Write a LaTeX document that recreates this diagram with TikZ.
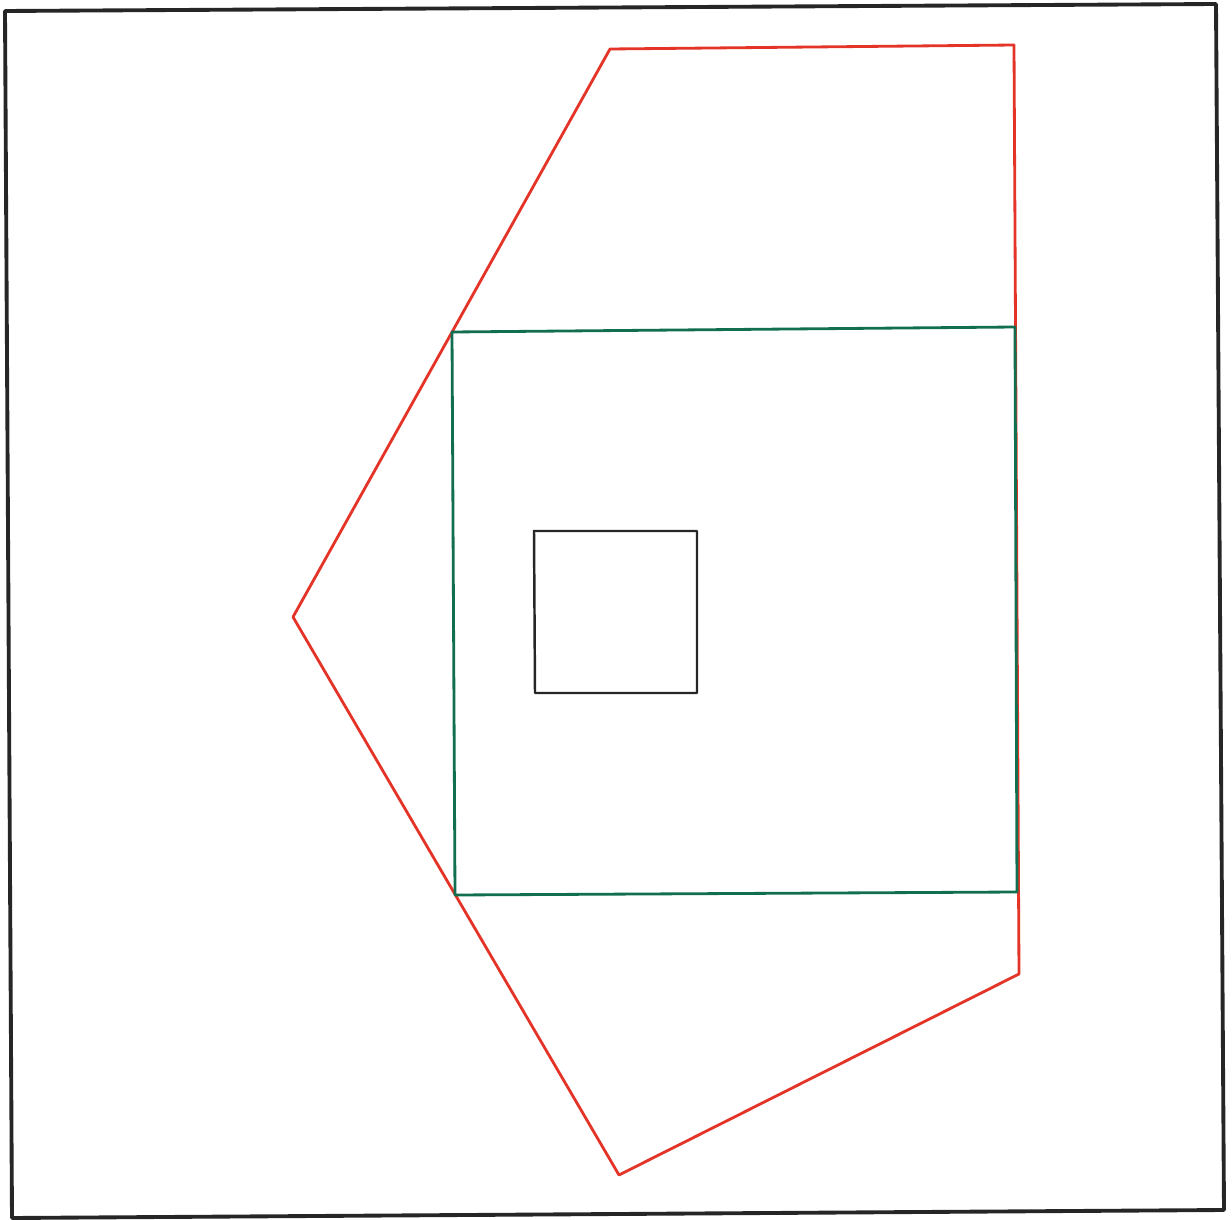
\documentclass[tikz,border=0pt]{standalone}
\usepackage{tikz}
\definecolor{penRed}{RGB}{228,52,40}
\definecolor{penGreen}{RGB}{18,110,80}
\begin{document}
\begin{tikzpicture}
        [x=0.02cm, y=-0.02cm,
        frame/.style={draw=black!85, line width=2.2pt, line join=round},
        outline/.style={draw=penRed, line width=1.6pt, line join=round},
        window/.style={draw=penGreen, line width=1.6pt, line join=round},
        pane/.style={draw=black!85, line width=1.4pt, line join=round}]
        \useasboundingbox (0,0) rectangle (1232,1220);
        % outer frame
        \draw[frame] (5,11) -- (1216,4) -- (1224,1210) -- (12,1218) -- cycle;
        % red polygon
        \coordinate (R1) at (610,49);
        \coordinate (R2) at (1014,45);
        \coordinate (R3) at (1019,974);
        \coordinate (R4) at (619,1175);
        \coordinate (R5) at (293,617);
        \draw[outline] (R1) -- (R2) -- (R3) -- (R4) -- (R5) -- cycle;
        % green square
        \coordinate (G1) at (452,332);
        \coordinate (G2) at (1015,327);
        \coordinate (G3) at (1017,892);
        \coordinate (G4) at (455,895);
        \draw[window] (G1) -- (G2) -- (G3) -- (G4) -- cycle;
        % small square
        \coordinate (B1) at (534,531);
        \coordinate (B2) at (697,531);
        \coordinate (B3) at (697,693);
        \coordinate (B4) at (535,693);
        \draw[pane] (B1) -- (B2) -- (B3) -- (B4) -- cycle;
    
    \end{tikzpicture}
\end{document}
